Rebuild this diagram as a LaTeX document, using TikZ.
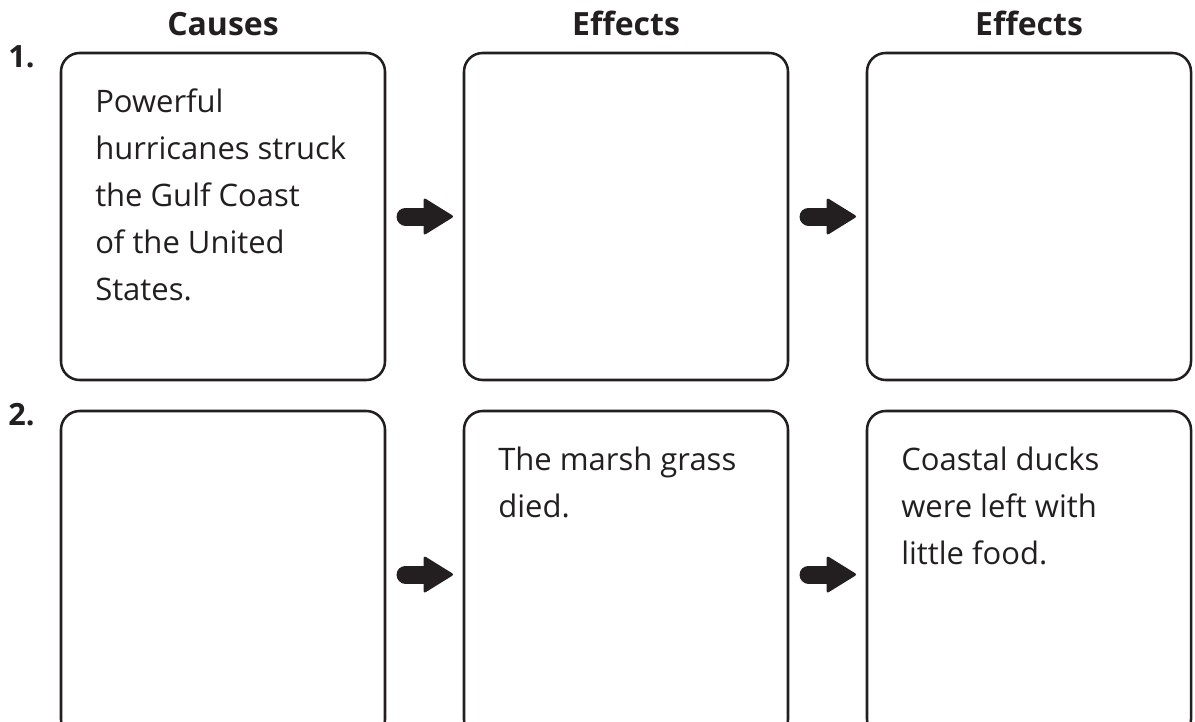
\documentclass[tikz,border=0pt]{standalone}
\usepackage{fontspec}
\setmainfont{Open Sans}
\usetikzlibrary{
    arrows.meta,
    positioning
}
\definecolor{ink}{RGB}{35,31,32}

\begin{document}
\begin{tikzpicture}[
    x=0.75pt,
    y=-0.75pt,
    box/.style={
        rectangle,
        draw=ink,
        line width=1.9pt,
        rounded corners=14pt,
        outer sep=0pt,
        minimum width=243pt,
        minimum height=245.25pt
    },
    header/.style={
        font=\fontsize{24}{28}\selectfont\bfseries,
        text=ink,
        inner sep=0pt,
        anchor=base
    },
    num/.style={
        font=\fontsize{23}{26}\selectfont\bfseries,
        text=ink,
        inner sep=0pt,
        anchor=base west
    },
    txt/.style={
        font=\fontsize{23.25}{35.25}\selectfont,
        text=ink,
        inner sep=0pt,
        align=left,
        anchor=north west
    },
    fatarrow/.style={
        draw=ink,
        line width=13.5pt,
        line cap=round,
        shorten <=15.4pt,
        shorten >=8.25pt,
        -{Triangle[length=23pt,width=28pt,line width=2pt,round]}
    }
]

\useasboundingbox (0,0) rectangle (1195,721);

%--------------------------------------------------
% row 1
\node[box] (cause1) at (223,216.5) {};
\node[box,right=59.25pt of cause1] (effA1) {};
\node[box,right=59.25pt of effA1] (effB1) {};

% row 2
\node[box,below=23.25pt of cause1] (cause2) {};
\node[box,right=59.25pt of cause2] (effA2) {};
\node[box,right=59.25pt of effA2] (effB2) {};

% headers
\node[header] (hcause) at ([yshift=12.75pt]cause1.north) {Causes};
\node[header] (heffA) at ([yshift=12.75pt]effA1.north) {Effects};
\node[header] (heffB) at ([yshift=12.75pt]effB1.north) {Effects};

\node[num] (num1) at ([xshift=-39.75pt,yshift=-10.5pt]cause1.north west) {1.};
\node[num] (num2) at ([xshift=-39.75pt,yshift=-10.5pt]cause2.north west) {2.};

% texts
\node[txt] (cause1text) at ([xshift=25.5pt,yshift=-19.55pt]cause1.north west)
{
\strut Powerful\\
hurricanes struck\\
the Gulf Coast\\
of the United\\
States.
};

\node[txt] (effA2text) at ([xshift=25.5pt,yshift=-19.55pt]effA2.north west)
{
\strut The marsh grass\\
died.
};

\node[txt] (effB2text) at ([xshift=25.5pt,yshift=-19.55pt]effB2.north west)
{
\strut Coastal ducks\\
were left with\\
little food.
};

%--------------------------------------------------
\draw[fatarrow] (cause1) -- (effA1);
\draw[fatarrow] (effA1) -- (effB1);
\draw[fatarrow] (cause2) -- (effA2);
\draw[fatarrow] (effA2) -- (effB2);

\end{tikzpicture}
\end{document}
